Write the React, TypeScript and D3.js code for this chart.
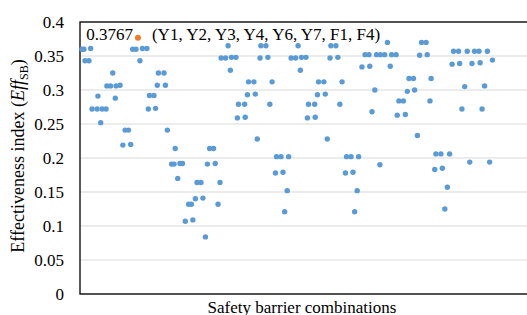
import React from 'react';
import * as d3 from 'd3';

// [combination position, effectiveness index]
const group1: [number, number][] = [
    [0.7, 0.36], [1.4, 0.36], [3.8, 0.361], [1.8, 0.343], [3.2, 0.343],
    [11.7, 0.325], [9.6, 0.306], [10.9, 0.306], [12.9, 0.306], [14.3, 0.307],
    [6.4, 0.291], [12.6, 0.288], [4.3, 0.272], [6.1, 0.272], [7.9, 0.272], [9.3, 0.272],
    [7.4, 0.252], [16.1, 0.241], [17.3, 0.241], [15.3, 0.219], [18.1, 0.22],
    [18.8, 0.36], [20.0, 0.36], [22.3, 0.361], [23.9, 0.361], [21.4, 0.343],
];

const group2: [number, number][] = [
    [28.0, 0.325], [30.0, 0.325], [27.6, 0.307], [30.5, 0.307],
    [24.8, 0.292], [26.4, 0.292], [24.4, 0.272], [27.0, 0.273],
    [31.2, 0.241], [34.0, 0.214], [32.7, 0.191], [33.6, 0.191], [35.7, 0.192], [36.6, 0.192],
    [34.9, 0.17], [41.8, 0.164], [43.2, 0.164], [50.0, 0.164],
    [41.2, 0.14], [43.9, 0.141], [38.8, 0.132], [39.8, 0.132], [49.3, 0.132],
    [37.6, 0.107], [40.3, 0.109], [44.8, 0.084],
    [46.3, 0.214], [47.7, 0.214], [45.5, 0.191], [48.3, 0.192],
];

const group3: [number, number][] = [
    [52.9, 0.365], [50.4, 0.347], [52.0, 0.347], [54.1, 0.348], [55.7, 0.348],
    [53.7, 0.329], [60.2, 0.312], [62.1, 0.312], [59.8, 0.293], [62.6, 0.294],
    [56.6, 0.279], [58.8, 0.279], [56.2, 0.259], [59.0, 0.26], [63.3, 0.228],
    [64.6, 0.365], [66.4, 0.365], [64.3, 0.347], [67.1, 0.348], [68.6, 0.312], [67.8, 0.279],
    [70.2, 0.202], [71.8, 0.202], [69.8, 0.178], [72.5, 0.179], [74.0, 0.152], [73.1, 0.121], [74.5, 0.202],
];

const group4: [number, number][] = [
    [77.9, 0.365], [75.4, 0.347], [77.0, 0.347], [79.1, 0.348], [80.7, 0.348],
    [78.7, 0.329], [85.2, 0.312], [87.1, 0.312], [84.8, 0.293], [87.6, 0.294],
    [81.6, 0.279], [83.8, 0.279], [81.2, 0.259], [84.0, 0.26], [88.3, 0.228],
    [89.6, 0.365], [91.4, 0.365], [89.3, 0.347], [92.1, 0.348], [93.6, 0.312], [92.8, 0.279],
    [95.2, 0.202], [96.8, 0.202], [94.8, 0.178], [97.5, 0.179], [99.0, 0.152], [98.1, 0.121], [99.5, 0.202],
];

const group5: [number, number][] = [
    [109.8, 0.37], [101.8, 0.352], [103.2, 0.352], [105.9, 0.352], [107.3, 0.352],
    [108.8, 0.352], [111.3, 0.352], [112.9, 0.352],
    [100.7, 0.334], [103.5, 0.335], [110.8, 0.335],
    [117.5, 0.317], [119.1, 0.317], [116.9, 0.298], [119.5, 0.3], [105.3, 0.3],
    [113.9, 0.284], [115.5, 0.284], [104.3, 0.268], [113.3, 0.263], [116.2, 0.264],
    [120.5, 0.233], [122.0, 0.37], [123.6, 0.37], [121.3, 0.351], [124.0, 0.352],
    [125.4, 0.317], [125.0, 0.284], [107.1, 0.19],
];

const group6: [number, number][] = [
    [127.1, 0.206], [128.9, 0.206], [132.0, 0.206], [126.7, 0.183], [129.4, 0.185],
    [131.2, 0.157], [130.3, 0.125],
    [133.4, 0.357], [135.2, 0.357], [138.3, 0.357], [140.9, 0.357], [142.5, 0.357], [145.5, 0.357],
    [132.9, 0.338], [135.6, 0.339], [140.0, 0.339], [142.9, 0.34], [147.3, 0.344],
    [137.4, 0.305], [144.5, 0.306], [136.4, 0.272], [143.6, 0.272],
    [139.2, 0.194], [146.3, 0.194],
];

const best = { pos: 20.7, value: 0.3767, label: '(Y1, Y2, Y3, Y4, Y6, Y7, F1, F4)' };

const yTicks = [0, 0.05, 0.1, 0.15, 0.2, 0.25, 0.3, 0.35, 0.4];

const W = 527;
const H = 315;
const margin = { left: 80, top: 22, right: 0, bottom: 21 };

const App: React.FC = () => {
    const x = d3.scaleLinear().domain([0, 160]).range([margin.left, 528]);
    const y = d3.scaleLinear().domain([0, 0.4]).range([H - margin.bottom, margin.top]);

    const points = [...group1, ...group2, ...group3, ...group4, ...group5, ...group6];
    const font = '"Liberation Serif", "Times New Roman", serif';

    return (
        <svg width={W} height={H} style={{ position: 'absolute', left: 0, top: 0, background: '#fff' }}>
            {/* gridlines */}
            {yTicks.map(t => (
                <line key={t} x1={margin.left} x2={W + 5} y1={y(t)} y2={y(t)} stroke="#d9d9d9" strokeWidth={1} />
            ))}
            {/* plot frame */}
            <rect x={margin.left} y={y(0.4)} width={W} height={y(0) - y(0.4)} fill="none" stroke="#000" strokeWidth={1.3} />

            {yTicks.map(t => (
                <text key={'l' + t} x={64} y={y(t)} dy="0.35em" textAnchor="end" fontFamily={font} fontSize={17} fill="#000">
                    {t === 0 ? '0' : String(t)}
                </text>
            ))}

            {points.map((d, i) => (
                <circle key={i} cx={x(d[0])} cy={y(d[1])} r={2.7} fill="#5b9bd5" />
            ))}
            <circle cx={x(best.pos)} cy={y(best.value)} r={3} fill="#ed7d31" />
            <text x={x(best.pos) - 5} y={y(best.value) + 2} textAnchor="end" fontFamily={font} fontSize={17}>
                {best.value.toFixed(4)}
            </text>
            <text x={x(best.pos) + 14} y={y(best.value) + 2} fontFamily={font} fontSize={17}>
                {best.label}
            </text>

            <text transform={`translate(24, ${(y(0) + y(0.4)) / 2 - 2}) rotate(-90)`} textAnchor="middle" fontFamily={font} fontSize={18}>
                Effectiveness index (<tspan fontStyle="italic">Eff</tspan>
                <tspan fontSize={12} dy={4}>SB</tspan>
                <tspan dy={-4}>)</tspan>
            </text>

            <text x={302} y={313} textAnchor="middle" fontFamily={font} fontSize={17}>
                Safety barrier combinations
            </text>
        </svg>
    );
};

export default App;
